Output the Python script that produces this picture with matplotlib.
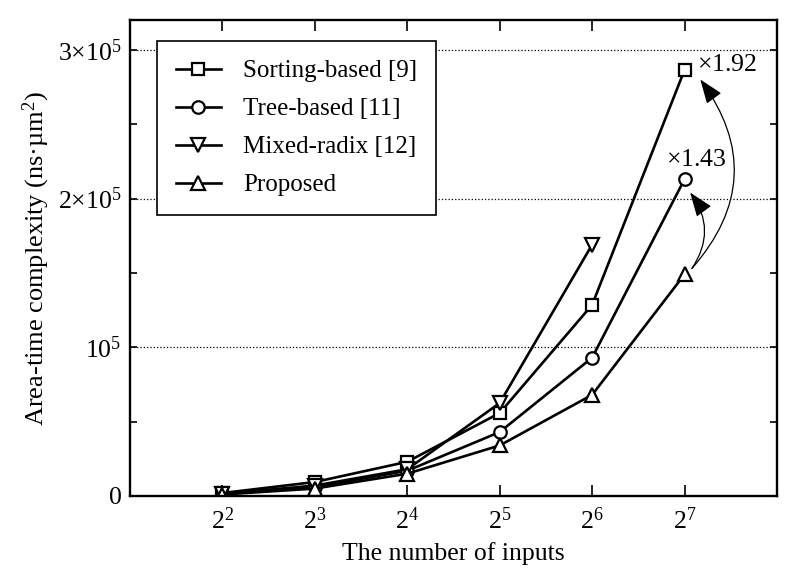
import matplotlib
matplotlib.use('Agg')
import matplotlib.pyplot as plt
import numpy as np

plt.rcParams['font.family'] = 'Liberation Serif'
plt.rcParams['mathtext.fontset'] = 'custom'
plt.rcParams['mathtext.rm'] = 'Liberation Serif'
plt.rcParams['mathtext.it'] = 'Liberation Serif:italic'
plt.rcParams['mathtext.bf'] = 'Liberation Serif:bold'

# exponents of the number of inputs (2^k)
exps = [2, 3, 4, 5, 6, 7]

sorting = [2000, 9400, 23000, 55800, 128500, 286500]
tree = [1500, 6000, 17000, 43000, 93000, 213000]
mixed = [1500, 7000, 18000, 62500, 169000]
proposed = [1000, 5000, 15000, 34000, 68000, 149000]

labels = ['Sorting-based [9]', 'Tree-based [11]', 'Mixed-radix [12]', 'Proposed']

fig = plt.figure(figsize=(8.05, 5.86), dpi=100)
ax = fig.add_axes([130 / 805, 1 - 496 / 586, 647 / 805, 476 / 586])

style = dict(color='black', lw=1.9, markerfacecolor='white',
             markeredgecolor='black', markeredgewidth=1.6)
ax.plot(exps, sorting, marker='s', ms=8, label=labels[0], **style)
ax.plot(exps, tree, marker='o', ms=9, label=labels[1], **style)
ax.plot(exps[:5], mixed, marker='v', ms=10, label=labels[2], **style)
ax.plot(exps, proposed, marker='^', ms=10, label=labels[3], **style)

ax.set_xlim(1, 8)
ax.set_ylim(0, 3.2e5)
ax.set_xticks(exps)
ax.set_xticklabels([r'$2^{%d}$' % k for k in exps])
ax.set_yticks([0, 1e5, 2e5, 3e5])
ax.set_yticklabels(['0', r'$10^{5}$', r'$2{\times}10^{5}$', r'$3{\times}10^{5}$'])
ax.set_yticks([5e4, 1.5e5, 2.5e5], minor=True)

ax.tick_params(axis='both', which='both', direction='in', labelsize=18.5,
               top=True, right=True, width=1.2)
ax.tick_params(axis='x', length=8, pad=8)
ax.tick_params(axis='y', which='both', length=5, pad=6)

for s in ax.spines.values():
    s.set_linewidth(1.7)

ax.grid(axis='y', which='major', linestyle=':', color='black', lw=0.9)
ax.set_axisbelow(True)

ax.set_xlabel('The number of inputs', fontsize=18.5, labelpad=6)
ax.set_ylabel(r'Area-time complexity (ns·µm$^{2}$)', fontsize=19, labelpad=4)

leg = ax.legend(loc='upper left', bbox_to_anchor=(157 / 805, 1 - 41 / 586),
                bbox_transform=fig.transFigure, fontsize=18, frameon=True,
                fancybox=False, edgecolor='black', framealpha=1,
                handlelength=1.8, borderpad=0.75, labelspacing=0.62,
                handletextpad=0.9, borderaxespad=0)
leg.get_frame().set_linewidth(1.2)

# ratio annotations
ax.text(7.13, 2.90e5, r'${\times}$1.92', fontsize=18.5, ha='left', va='center')
ax.text(6.80, 2.26e5, r'${\times}$1.43', fontsize=18.5, ha='left', va='center')

arrow = dict(arrowstyle='-|>,head_length=0.75,head_width=0.28', color='black',
             lw=0.9, shrinkA=0, shrinkB=0, mutation_scale=20)
ax.annotate('', xy=(7.17, 2.80e5), xytext=(7.08, 1.53e5),
            arrowprops=dict(connectionstyle='arc3,rad=0.4', **arrow))
ax.annotate('', xy=(7.06, 2.04e5), xytext=(7.08, 1.53e5),
            arrowprops=dict(connectionstyle='arc3,rad=0.35', **arrow))

fig.savefig('out.png', dpi=100)
